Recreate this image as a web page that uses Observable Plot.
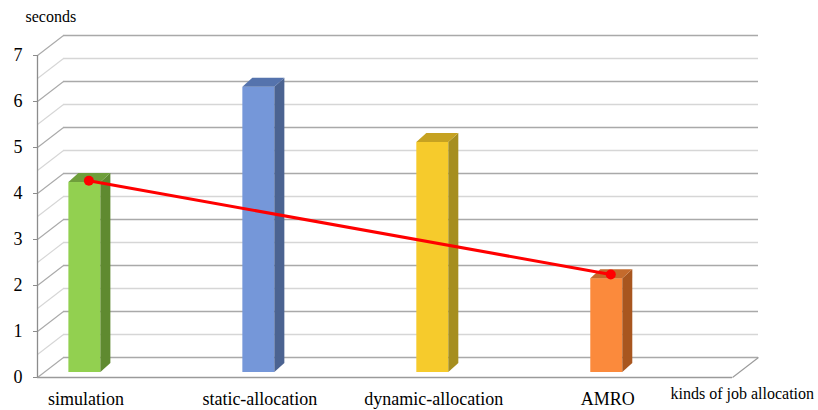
<!DOCTYPE html>
<html>
<head>
<meta charset="utf-8">
<script src="https://cdn.jsdelivr.net/npm/d3@7"></script>
<script src="https://cdn.jsdelivr.net/npm/@observablehq/plot@0.6"></script>
<style>
  html, body { margin: 0; padding: 0; background: #fff; }
  #chart svg, #chart svg text { font-family: "Liberation Serif", "DejaVu Serif", serif !important; }
</style>
</head>
<body>
<div id="chart"></div>
<script>
// Run time per kind of job allocation
const categories = ["simulation", "static-allocation", "dynamic-allocation", "AMRO"];
const seconds = [4.13, 6.2, 5.0, 2.04];
const frontColors = ["#92d050", "#7597d9", "#f6cb2c", "#fb8a3c"];
const sideColors = ["#5f8a30", "#4b6391", "#a68e1f", "#a8561f"];
const topColors = ["#6f9f3b", "#5573ad", "#c6a221", "#c46a2c"];

// Trend line between the first and last allocation kind
const trendCategories = ["simulation", "AMRO"];
const trendSeconds = [4.17, 2.13];

const yTicks = [0, 1, 2, 3, 4, 5, 6, 7];
const gridValues = d3.range(0, 7.01, 0.5);
const yLabel = "seconds";
const xLabel = "kinds of job allocation";

// Plot frame (front plane of the 3-D box)
const W = 818, H = 410;
const frameLeft = 37, frameRight = 732, frameTop = 55, frameBottom = 377;
const xDomain = [-0.235, 3.76];
const yDomain = [0, 7];
const kx = (frameRight - frameLeft) / (xDomain[1] - xDomain[0]);
const ky = (frameBottom - frameTop) / (yDomain[1] - yDomain[0]);

// depth of the box and of the bars, in pixels
const wallDX = 26, wallDY = 20;
const barDX = 6.5, barDY = 5;       // bars sit a quarter of the way into the box
const barDepthX = 10, barDepthY = 9;
const halfW = 16 / kx;

const idx = c => categories.indexOf(c);
const bars = categories.map((c, i) => ({c, i, v: seconds[i], front: frontColors[i], side: sideColors[i], topFill: topColors[i]}));

const sidePts = bars.flatMap(b => [
  {c: b.c, fill: b.side, x: b.i + halfW, y1: 0, y2: b.v},
  {c: b.c, fill: b.side, x: b.i + halfW + barDepthX / kx, y1: barDepthY / ky, y2: b.v + barDepthY / ky}
]);
const topPts = bars.flatMap(b => [
  {c: b.c, fill: b.topFill, y: b.v, x1: b.i - halfW, x2: b.i + halfW},
  {c: b.c, fill: b.topFill, y: b.v + barDepthY / ky, x1: b.i - halfW + barDepthX / kx, x2: b.i + halfW + barDepthX / kx}
]);
const trend = trendCategories.map((c, k) => ({i: idx(c), v: trendSeconds[k]}));

const gridStroke = v => Number.isInteger(v) ? "#a9a9a9" : "#d6d6d6";
const font = "'Liberation Serif', 'DejaVu Serif', serif";

const chart = Plot.plot({
  width: W,
  height: H,
  marginLeft: frameLeft,
  marginRight: W - frameRight,
  marginTop: frameTop,
  marginBottom: H - frameBottom,
  style: {fontFamily: font, background: "#fff", overflow: "visible"},
  x: {type: "linear", domain: xDomain, axis: null},
  y: {type: "linear", domain: yDomain, axis: null},
  color: {type: "identity"},
  marks: [
    // back wall gridlines
    Plot.ruleY(gridValues, {y: d => d, dx: wallDX, dy: -wallDY, stroke: gridStroke, strokeWidth: 1.3}),
    // side wall diagonals
    Plot.link(gridValues, {
      x1: () => xDomain[0], y1: d => d,
      x2: () => xDomain[0] + wallDX / kx, y2: d => d + wallDY / ky,
      stroke: gridStroke, strokeWidth: 1.1
    }),
    // floor: front edge and right diagonal
    Plot.ruleY([0], {stroke: "#9a9a9a", strokeWidth: 1.3}),
    Plot.link([0], {
      x1: () => xDomain[1], y1: () => 0,
      x2: () => xDomain[1] + wallDX / kx, y2: () => wallDY / ky,
      stroke: "#9a9a9a", strokeWidth: 1.1
    }),
    // value axis
    Plot.ruleX([xDomain[0]], {y1: 0, y2: 7, stroke: "#8c8c8c", strokeWidth: 1.3}),
    Plot.axisY(yTicks, {tickSize: 4, tickPadding: 11, fontSize: 18, stroke: "#8c8c8c", fill: "#000"}),
    // bars: front faces, side faces, tops
    Plot.rectY(bars, {x1: d => d.i - halfW, x2: d => d.i + halfW, y1: 0, y2: "v", fill: "front", dx: barDX, dy: -barDY}),
    Plot.areaY(sidePts, {x: "x", y1: "y1", y2: "y2", z: "c", fill: "fill", dx: barDX, dy: -barDY}),
    Plot.areaX(topPts, {y: "y", x1: "x1", x2: "x2", z: "c", fill: "fill", dx: barDX, dy: -barDY}),
    // trend line
    Plot.line(trend, {x: "i", y: "v", stroke: "#ff0000", strokeWidth: 3, dx: barDX + 4, dy: -barDY}),
    Plot.dot(trend, {x: "i", y: "v", r: 5, fill: "#ff0000", stroke: "none", dx: barDX + 4, dy: -barDY}),
    // category labels
    Plot.text(bars, {x: "i", y: () => 0, text: "c", fontSize: 18, fill: "#000", dx: barDX + 1, dy: 22}),
    // axis titles
    Plot.text([yLabel], {x: () => xDomain[0], y: () => 7, text: d => d, fontSize: 16, fill: "#000", textAnchor: "start", dx: -12, dy: -39}),
    Plot.text([xLabel], {x: () => xDomain[1], y: () => 0, text: d => d, fontSize: 16, fill: "#000", textAnchor: "start", dx: -62, dy: 16})
  ]
});

document.getElementById("chart").appendChild(chart);
</script>
</body>
</html>
